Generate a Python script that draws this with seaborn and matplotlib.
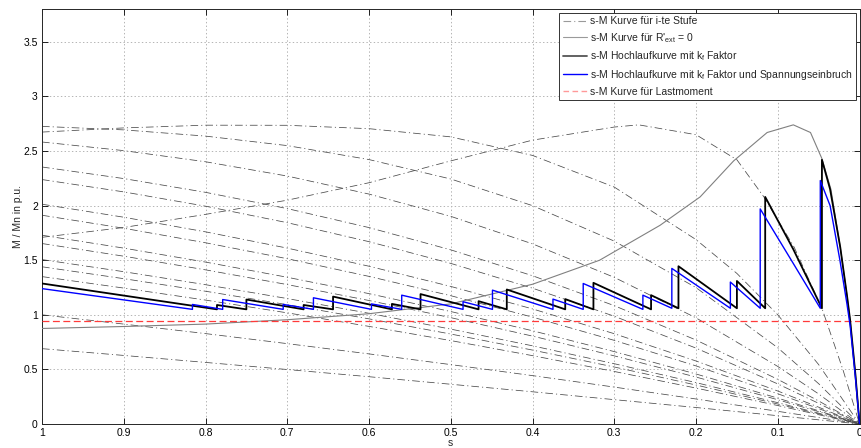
import numpy as np
import pandas as pd
import matplotlib
matplotlib.use('Agg')
import matplotlib.pyplot as plt
import seaborn as sns
from matplotlib.lines import Line2D

# --- slip grid shared by the resistor-stage curves ---
s_grid = [1.0, 0.9, 0.8, 0.7, 0.6, 0.5, 0.4, 0.3, 0.2, 0.1, 0.05, 0.0]

# s-M curves for each resistor stage
stufe_a = [2.726, 2.694, 2.637, 2.550, 2.422, 2.244, 2.000, 1.675, 1.249, 0.698, 0.369, 0.0]
stufe_b = [2.583, 2.504, 2.402, 2.271, 2.106, 1.902, 1.650, 1.343, 0.972, 0.527, 0.275, 0.0]
stufe_c = [2.354, 2.248, 2.122, 1.973, 1.799, 1.595, 1.358, 1.084, 0.769, 0.409, 0.211, 0.0]
stufe_d = [2.239, 2.126, 1.995, 1.844, 1.670, 1.471, 1.244, 0.987, 0.695, 0.367, 0.189, 0.0]
stufe_e = [2.013, 1.894, 1.760, 1.611, 1.445, 1.260, 1.054, 0.827, 0.577, 0.302, 0.154, 0.0]
stufe_f = [1.912, 1.793, 1.660, 1.514, 1.352, 1.175, 0.979, 0.766, 0.532, 0.277, 0.141, 0.0]
stufe_g = [1.729, 1.611, 1.483, 1.344, 1.194, 1.030, 0.854, 0.663, 0.458, 0.237, 0.121, 0.0]
stufe_h = [1.653, 1.537, 1.412, 1.277, 1.131, 0.974, 0.805, 0.624, 0.430, 0.222, 0.113, 0.0]
stufe_i = [1.506, 1.395, 1.276, 1.149, 1.014, 0.869, 0.716, 0.552, 0.379, 0.195, 0.099, 0.0]
stufe_j = [1.440, 1.331, 1.216, 1.093, 0.963, 0.824, 0.677, 0.522, 0.357, 0.183, 0.093, 0.0]
stufe_k = [1.350, 1.245, 1.135, 1.018, 0.894, 0.764, 0.626, 0.481, 0.329, 0.169, 0.085, 0.0]
stufe_l = [1.000, 0.915, 0.828, 0.736, 0.642, 0.544, 0.443, 0.338, 0.229, 0.116, 0.059, 0.0]
stufe_m = [0.690, 0.628, 0.564, 0.499, 0.433, 0.364, 0.295, 0.223, 0.151, 0.076, 0.038, 0.0]

# the two stages whose breakdown point lies inside 0 < s < 1
arch_top_s = [1.0, 0.9, 0.8, 0.7, 0.6, 0.5, 0.4, 0.3, 0.2, 0.15, 0.1, 0.05, 0.0]
arch_top_m = [2.674, 2.712, 2.737, 2.736, 2.705, 2.63, 2.46, 2.17, 1.689, 1.379, 1.0, 0.544, 0.0]
arch_big_s = [1.0, 0.9, 0.8, 0.7, 0.6, 0.5, 0.4, 0.3, 0.27, 0.2, 0.15, 0.117, 0.08, 0.046, 0.02, 0.0]
arch_big_m = [1.71, 1.80, 1.92, 2.05, 2.21, 2.41, 2.60, 2.72, 2.74, 2.65, 2.42, 2.08, 1.62, 1.06, 0.49, 0.0]

# natural curve (R'ext = 0)
natural_s = [1.0, 0.9, 0.8, 0.7, 0.6, 0.5, 0.4, 0.318, 0.244, 0.195, 0.154, 0.113, 0.081,
             0.06, 0.046, 0.035, 0.0236, 0.0154, 0.0115, 0.005, 0.0]
natural_m = [0.875, 0.893, 0.915, 0.955, 1.01, 1.10, 1.28, 1.50, 1.82, 2.08, 2.41, 2.67, 2.74,
             2.67, 2.43, 2.15, 1.62, 1.18, 0.95, 0.45, 0.0]

# run-up with k_f factor (black)
hoch_s = [1.0, 0.786, 0.786, 0.75, 0.75, 0.68, 0.68, 0.644, 0.644, 0.572, 0.572, 0.537, 0.537,
          0.466, 0.466, 0.4315, 0.4315, 0.36, 0.36, 0.3255, 0.3255, 0.255, 0.255, 0.2215, 0.2215,
          0.150, 0.150, 0.1154, 0.1154, 0.081, 0.046, 0.046, 0.036, 0.0236, 0.0154, 0.0115, 0.005, 0.0]
hoch_m = [1.287, 1.05, 1.09, 1.05, 1.14, 1.05, 1.09, 1.05, 1.167, 1.05, 1.10, 1.05, 1.19,
          1.05, 1.125, 1.05, 1.232, 1.05, 1.144, 1.05, 1.293, 1.05, 1.18, 1.06, 1.445,
          1.06, 1.31, 1.06, 2.08, 1.60, 1.06, 2.42, 2.15, 1.62, 1.18, 0.95, 0.45, 0.0]

# run-up with k_f factor and voltage dip (blue)
dip_s = [1.0, 0.816, 0.816, 0.779, 0.779, 0.705, 0.705, 0.668, 0.668, 0.597, 0.597, 0.56, 0.56,
         0.485, 0.485, 0.449, 0.449, 0.375, 0.375, 0.338, 0.338, 0.265, 0.265, 0.2296, 0.2296,
         0.158, 0.158, 0.1215, 0.1215, 0.081, 0.048, 0.048, 0.036, 0.024, 0.0154, 0.0115, 0.005, 0.0]
dip_m = [1.24, 1.05, 1.095, 1.05, 1.14, 1.05, 1.095, 1.05, 1.156, 1.05, 1.10, 1.05, 1.18,
         1.05, 1.12, 1.05, 1.226, 1.05, 1.144, 1.05, 1.287, 1.05, 1.18, 1.06, 1.425,
         1.06, 1.30, 1.06, 1.97, 1.47, 1.06, 2.23, 2.0, 1.50, 1.10, 0.90, 0.42, 0.0]

# load torque
last_s = [1.0, 0.0]
last_m = [0.945, 0.945]

x_ticks = [0, 0.1, 0.2, 0.3, 0.4, 0.5, 0.6, 0.7, 0.8, 0.9, 1]
x_ticklabels = ['0', '0.1', '0.2', '0.3', '0.4', '0.5', '0.6', '0.7', '0.8', '0.9', '1']
y_ticks = [0, 0.5, 1, 1.5, 2, 2.5, 3, 3.5]
y_ticklabels = ['0', '0.5', '1', '1.5', '2', '2.5', '3', '3.5']

labels = ["s-M Kurve für i-te Stufe",
          "s-M Kurve für R'$_{ext}$ = 0",
          "s-M Hochlaufkurve mit k$_f$ Faktor",
          "s-M Hochlaufkurve mit k$_f$ Faktor und Spannungseinbruch",
          "s-M Kurve für Lastmoment"]

# --- style ---
sns.set_style('ticks')
plt.rcParams['font.family'] = ['Liberation Sans', 'DejaVu Sans']
plt.rcParams['mathtext.default'] = 'regular'
plt.rcParams['lines.scale_dashes'] = False

fig = plt.figure(figsize=(8.61, 4.48), dpi=100)
ax = fig.add_axes([0.0488, 0.0536, 0.9495, 0.926])

dashdot = (5.5, 2.2, 0.8, 2.2)
col_stufe = '#4a4a4a'


def draw(s, m, color, lw, dashes=None, zorder=2):
    df = pd.DataFrame({'s': s, 'M': m})
    sns.lineplot(data=df, x='s', y='M', sort=False, estimator=None, color=color,
                 linewidth=lw, ax=ax, legend=False, zorder=zorder)
    line = ax.lines[-1]
    if dashes is not None:
        line.set_dashes(dashes)
    return line


stufen = [stufe_a, stufe_b, stufe_c, stufe_d, stufe_e, stufe_f, stufe_g,
          stufe_h, stufe_i, stufe_j, stufe_k, stufe_l, stufe_m]
for curve in stufen:
    draw(s_grid, curve, col_stufe, 0.55, dashdot)
draw(arch_top_s, arch_top_m, col_stufe, 0.55, dashdot)
draw(arch_big_s, arch_big_m, col_stufe, 0.55, dashdot)

draw(natural_s, natural_m, '#808080', 0.8, zorder=3)
draw(last_s, last_m, '#ff3a3a', 0.9, (5, 2.5), zorder=4)
draw(hoch_s, hoch_m, 'black', 1.3, zorder=5)
draw(dip_s, dip_m, '#0000ff', 1.0, zorder=6)

ax.set_xlim(1, 0)
ax.set_ylim(0, 3.8)
ax.set_xticks(x_ticks)
ax.set_xticklabels(x_ticklabels)
ax.set_yticks(y_ticks)
ax.set_yticklabels(y_ticklabels)
ax.tick_params(direction='in', top=True, right=True, length=4, width=0.6,
               labelsize=7.5, pad=3, colors='black')
ax.grid(True, linestyle=':', color='#b4b4b4', linewidth=0.7)
for sp in ax.spines.values():
    sp.set_visible(True)
    sp.set_linewidth(0.7)
    sp.set_color('#262626')
ax.set_xlabel('s', fontsize=7.5, labelpad=0)
ax.set_ylabel('M / Mn in p.u.', fontsize=7.5, labelpad=0.5)

handles = [Line2D([], [], color='#9a9a9a', lw=0.8, dashes=dashdot),
           Line2D([], [], color='#9a9a9a', lw=0.8),
           Line2D([], [], color='#555555', lw=1.3),
           Line2D([], [], color='#0000ff', lw=1.0),
           Line2D([], [], color='#ff9999', lw=1.0, dashes=(4, 2.5))]
leg = ax.legend(handles, labels, loc='upper right', bbox_to_anchor=(1, 1), fontsize=7.5,
                frameon=True, fancybox=False, framealpha=1, edgecolor='#333333',
                borderaxespad=0.35, borderpad=0.35, labelspacing=0.45,
                handlelength=2.3, handletextpad=0.25)
leg.get_frame().set_linewidth(0.7)

fig.savefig('out.png', dpi=100)
